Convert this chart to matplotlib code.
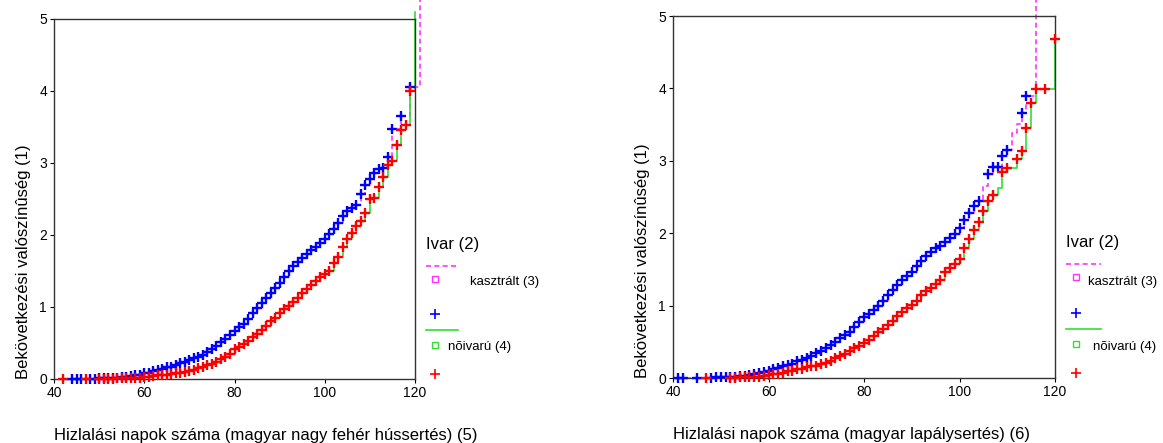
import numpy as np
import matplotlib
matplotlib.use("Agg")
import matplotlib.pyplot as plt

plt.rcParams['font.family'] = ['Liberation Sans', 'DejaVu Sans']

# === Data: cumulative hazard ===
# panel 1: magyar nagy fehér hússertés
p1_kasz_t = [44, 45, 46, 48, 49, 50, 51, 52, 53, 54, 55, 56, 57, 58, 59, 60, 61, 62, 63, 64,
             65, 66, 67, 68, 69, 70, 71, 72, 73, 74, 75, 76, 77, 78, 79, 80, 81, 82, 83, 84,
             85, 86, 87, 88, 89, 90, 91, 92, 93, 94, 95, 96, 97, 98, 99, 100, 101, 102, 103, 104,
             105, 106, 107, 108, 109, 110, 111, 112, 113, 114, 115, 117, 119, 121]
p1_kasz_h = [0, 0, 0, 0, 0, 0.01, 0.01, 0.01, 0.02, 0.02, 0.03, 0.03, 0.04, 0.05, 0.06, 0.08, 0.09, 0.11, 0.12, 0.14,
             0.16, 0.17, 0.20, 0.22, 0.24, 0.26, 0.29, 0.31, 0.34, 0.38, 0.42, 0.46, 0.51, 0.55, 0.61, 0.67, 0.72, 0.77, 0.84, 0.92,
             0.99, 1.05, 1.12, 1.20, 1.26, 1.33, 1.42, 1.50, 1.57, 1.62, 1.68, 1.73, 1.79, 1.84, 1.89, 1.94, 2.01, 2.08, 2.17, 2.26,
             2.34, 2.38, 2.42, 2.57, 2.70, 2.78, 2.86, 2.91, 2.93, 3.09, 3.47, 3.65, 4.06, 5.3]
p1_kasz_nomark = [121]

p1_noi_t = [42, 47, 50, 51, 52, 53, 54, 55, 56, 57, 58, 59, 60, 61, 62, 63, 64, 65, 66, 67,
            68, 69, 70, 71, 72, 73, 74, 75, 76, 77, 78, 79, 80, 81, 82, 83, 84, 85, 86, 87,
            88, 89, 90, 91, 92, 93, 94, 95, 96, 97, 98, 99, 100, 101, 102, 103, 104, 105, 106, 107,
            108, 109, 110, 111, 112, 113, 114, 115, 116, 117, 118, 119, 120]
p1_noi_h = [0, 0, 0, 0, 0, 0, 0.01, 0.01, 0.01, 0.01, 0.02, 0.02, 0.03, 0.03, 0.04, 0.05, 0.05, 0.06, 0.07, 0.08,
            0.09, 0.10, 0.11, 0.13, 0.15, 0.17, 0.19, 0.21, 0.24, 0.28, 0.31, 0.35, 0.42, 0.45, 0.49, 0.53, 0.58, 0.63, 0.68, 0.74,
            0.80, 0.85, 0.91, 0.97, 1.02, 1.07, 1.13, 1.19, 1.25, 1.31, 1.36, 1.41, 1.46, 1.50, 1.61, 1.70, 1.84, 1.94, 2.03, 2.12,
            2.19, 2.31, 2.50, 2.51, 2.66, 2.81, 2.97, 3.03, 3.25, 3.46, 3.53, 4.00, 5.1]
p1_noi_nomark = [120]

# panel 2: magyar lapálysertés
p2_kasz_t = [41, 42, 45, 48, 49, 50, 51, 52, 53, 54, 55, 56, 57, 58, 59, 60, 61, 62, 63, 64,
             65, 66, 67, 68, 69, 70, 71, 72, 73, 74, 75, 76, 77, 78, 79, 80, 81, 82, 83, 84,
             85, 86, 87, 88, 89, 90, 91, 92, 93, 94, 95, 96, 97, 98, 99, 100, 101, 102, 103, 104,
             105, 106, 107, 108, 109, 110, 111, 112, 113, 114, 116]
p2_kasz_h = [0, 0, 0, 0, 0.01, 0.01, 0.01, 0.02, 0.02, 0.03, 0.03, 0.04, 0.05, 0.07, 0.08, 0.10, 0.12, 0.14, 0.16, 0.18,
             0.20, 0.23, 0.25, 0.28, 0.31, 0.34, 0.37, 0.41, 0.45, 0.50, 0.55, 0.60, 0.64, 0.70, 0.77, 0.84, 0.88, 0.94, 1.00, 1.07,
             1.14, 1.21, 1.28, 1.35, 1.41, 1.47, 1.55, 1.62, 1.68, 1.74, 1.79, 1.83, 1.88, 1.93, 1.99, 2.07, 2.18, 2.28, 2.37, 2.45,
             2.65, 2.82, 2.92, 2.92, 3.07, 3.15, 3.38, 3.51, 3.66, 3.89, 5.3]
p2_kasz_nomark = [105, 111, 112, 116]

p2_noi_t = [47, 52, 53, 54, 55, 56, 57, 58, 59, 60, 61, 62, 63, 64, 65, 66, 67, 68, 69, 70,
            71, 72, 73, 74, 75, 76, 77, 78, 79, 80, 81, 82, 83, 84, 85, 86, 87, 88, 89, 90,
            91, 92, 93, 94, 95, 96, 97, 98, 99, 100, 101, 102, 103, 104, 105, 106, 107, 108, 109, 110,
            112, 113, 114, 115, 116, 118, 120]
p2_noi_h = [0, 0, 0, 0.01, 0.01, 0.01, 0.02, 0.02, 0.03, 0.04, 0.05, 0.06, 0.07, 0.09, 0.10, 0.12, 0.13, 0.15, 0.16, 0.17,
            0.19, 0.21, 0.24, 0.27, 0.30, 0.33, 0.37, 0.41, 0.44, 0.48, 0.53, 0.58, 0.63, 0.68, 0.73, 0.79, 0.85, 0.91, 0.96, 1.01,
            1.07, 1.14, 1.20, 1.25, 1.30, 1.36, 1.46, 1.52, 1.57, 1.64, 1.79, 1.92, 2.05, 2.16, 2.30, 2.44, 2.53, 2.63, 2.85, 2.90,
            3.02, 3.14, 3.45, 3.80, 3.99, 3.99, 4.68]
p2_noi_nomark = [108]

panels = [
    dict(kasz=(p1_kasz_t, p1_kasz_h, p1_kasz_nomark), noi=(p1_noi_t, p1_noi_h, p1_noi_nomark),
         xlabel="Hizlalási napok száma (magyar nagy fehér hússertés) (5)",
         rect=[54 / 1163, 1 - 379 / 443, 361 / 1163, 360 / 443],
         kx=470, nx=448),
    dict(kasz=(p2_kasz_t, p2_kasz_h, p2_kasz_nomark), noi=(p2_noi_t, p2_noi_h, p2_noi_nomark),
         xlabel="Hizlalási napok száma (magyar lapálysertés) (6)",
         rect=[673 / 1163, 1 - 378 / 443, 382 / 1163, 362 / 443],
         kx=1088, nx=1093),
]

MAG, GRN, BLU, RED = "#ff33ff", "#33dd33", "#0000ff", "#ff0000"

fig = plt.figure(figsize=(11.63, 4.43), dpi=100)

for p in panels:
    ax = fig.add_axes(p["rect"])
    # step curves + censor marks
    for key, lc, ls, mc in [("kasz", MAG, (0, (3, 2)), BLU), ("noi", GRN, "-", RED)]:
        t, h, nomark = p[key]
        ax.step(t, h, where="post", color=lc, ls=ls, lw=1.2, clip_on=False, zorder=2)
        mt = [ti for ti in t if ti not in nomark]
        mh = [hi for ti, hi in zip(t, h) if ti not in nomark]
        ax.plot(mt, mh, ls="none", marker="+", ms=7.5, mew=1.7, color=mc,
                clip_on=False, zorder=3)
    ax.set_xlim(40, 120)
    ax.set_ylim(0, 5)
    ax.set_xticks([40, 60, 80, 100, 120])
    ax.set_yticks([0, 1, 2, 3, 4, 5])
    ax.tick_params(labelsize=10, length=3, width=0.8, pad=2)
    for s in ax.spines.values():
        s.set_color("#333333")
        s.set_linewidth(1.0)
    ax.set_ylabel("Bekövetkezési valószínûség (1)", fontsize=12, loc="bottom", labelpad=6)
    ax.set_xlabel(p["xlabel"], fontsize=12, loc="left", labelpad=20)

    # legend drawn by hand to the right of the axes
    tr = ax.transAxes
    x0 = 1.03
    ax.text(x0, 0.375, "Ivar (2)", transform=tr, fontsize=12, va="center", ha="left")
    ax.plot([x0, x0 + 0.09], [0.315, 0.315], transform=tr, color=MAG, ls=(0, (3, 2)),
            lw=1.2, clip_on=False)
    ax.plot([x0 + 0.025], [0.278], transform=tr, marker="s", ms=4, mfc="none",
            mec=MAG, mew=1, clip_on=False)
    ax.plot([x0 + 0.025], [0.18], transform=tr, marker="+", ms=7, mew=1.2,
            color=BLU, clip_on=False)
    ax.plot([x0, x0 + 0.09], [0.136, 0.136], transform=tr, color=GRN, lw=1.2, clip_on=False)
    ax.plot([x0 + 0.025], [0.094], transform=tr, marker="s", ms=4, mfc="none",
            mec=GRN, mew=1, clip_on=False)
    ax.plot([x0 + 0.025], [0.013], transform=tr, marker="+", ms=7, mew=1.2,
            color=RED, clip_on=False)
    fig.text(p["kx"] / 1163, 1 - 282 / 443, "kasztrált (3)", fontsize=9.5, va="center", ha="left")
    fig.text(p["nx"] / 1163, 1 - 347 / 443, "nõivarú (4)", fontsize=9.5, va="center", ha="left")

fig.savefig("out.png", dpi=100)
